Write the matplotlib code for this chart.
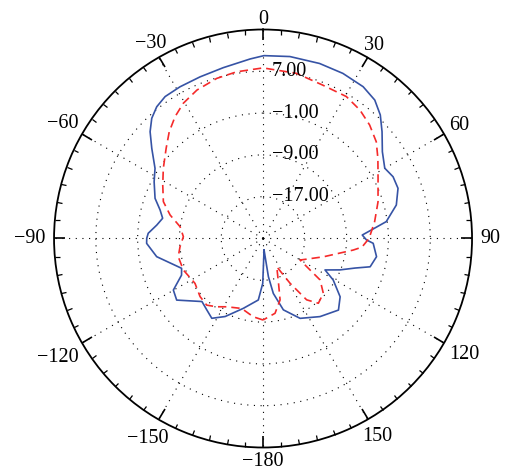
import numpy as np
import matplotlib
matplotlib.use('Agg')
import matplotlib.pyplot as plt

plt.rcParams['font.family'] = ['Liberation Serif', 'DejaVu Serif']

# blue solid pattern (angle in deg, gain in dB); starts and ends at the back spike
theta_blue = [-185, -179.6, -175.6, -164.2, -154.1, -147.3, -141.8, -135.9, -125.5, -119.9,
              -114.2, -110.1, -99.7, -92.4, -89.9, -87.4, -82.8, -78.6, -74.5, -69.6,
              -62.5, -57, -51, -46.6, -42.8, -38.9, -34.6, -28.7, -21.3, -13.1,
              -4.1, 0.3, 8.4, 17.9, 25.8, 33.4, 38.9, 43.5, 48.1, 54,
              60, 64.6, 69.6, 75.9, 82.2, 85.5, 88, 90.8, 92.5, 99.1,
              104.8, 107.8, 112.2, 116.9, 120.6, 127.1, 133.5, 143.9, 155.1, 164.1,
              169.4, 172, 175]
r_blue = [-22.8, -16.4, -13.2, -11.1, -8.4, -6.85, -7.6, -8.2, -4.7, -5.2,
          -7.9, -8.4, -4.35, -2.7, -2.74, -3.0, -4.5, -5.4, -4.55, -2.95,
          -1.5, -0.35, 2.4, 4.75, 6.35, 7.4, 8.0, 8.1, 8.2, 8.57,
          9.45, 10.0, 10.2, 10.2, 10.1, 9.8, 9.05, 7.6, 5.6, 3.23,
          1.9, 2.55, 2.56, 1.3, -1.2, -4.2, -6.0, -5.2, -3.9, -3.0,
          -3.8, -6.5, -9.1, -11.7, -9.4, -6.5, -5.1, -6.5, -8.15, -10.8,
          -14.3, -17.6, -22.8]

# red dashed pattern
theta_red = [-180, -172.9, -163, -152, -145.8, -139.8, -132.7, -123.4, -111.6, -102.1,
             -95.6, -88.7, -81.9, -75.8, -69.7, -61.9, -54.9, -47, -41.3, -35.8,
             -30.5, -24, -16.1, -9, 0, 11.4, 21.3, 30.4, 37, 43.2,
             49.5, 55.1, 62.4, 72.3, 81.4, 89.9, 95, 97.3, 106.8, 120.2,
             126, 132.3, 139.5, 144.6, 148.9, 154.1, 160.5, 164.5, 170.9, 180]
r_red = [-9.4, -9.9, -11.0, -10.2, -9.2, -8.3, -8.6, -9.4, -8.6, -8.4,
         -9.04, -9.75, -8.96, -6.65, -4.66, -3.24, -1.67, 0.35, 2.2, 3.77,
         5.05, 6.1, 6.9, 7.3, 7.65, 7.25, 6.5, 6.5, 5.8, 4.8,
         3.5, 1.8, -0.16, -1.9, -3.4, -4.7, -6.0, -7.6, -12.9, -16.8,
         -11.5, -9.4, -8.7, -10.6, -15.0, -19.0, -16.2, -12.8, -10.5, -9.4]

theta_ticks = np.arange(0, 360, 30)
theta_labels = ['0', '30', '60', '90', '120', '150',
                '\u2212180', '\u2212150', '\u2212120', '\u221290', '\u221260', '\u221230']
r_ticks = [-17, -9, -1, 7]
r_labels = ['\u221217.00', '\u22129.00', '\u22121.00', '7.00']
r_min, r_max = -25, 15

fig = plt.figure(figsize=(5.08, 4.75), dpi=100)
ax = fig.add_axes([0.1063, 0.0579, 0.823, 0.88], projection='polar')
ax.set_theta_zero_location('N')
ax.set_theta_direction(-1)
ax.set_ylim(r_min, r_max)

ax.plot(np.radians(theta_blue), r_blue, color='#3653a5', lw=1.2)
ax.plot(np.radians(theta_red), r_red, color='#f52a2a', lw=1.2, ls=(0, (5, 3)))

ax.set_xticks(np.radians(theta_ticks))
ax.set_xticklabels([])
ax.set_xticks(np.radians(np.arange(0, 360, 5)), minor=True)
ax.tick_params(axis='x', which='both', top=True, bottom=False)
ax.tick_params(axis='x', which='major', direction='in', length=8, width=1.2)
ax.tick_params(axis='x', which='minor', direction='in', length=3.5, width=0.9)

# angle labels outside the circle, pushed out by their own size
angle_txt = []
for th, lab in zip(theta_ticks, theta_labels):
    t = ax.annotate(lab, xy=(np.radians(th), r_max), xytext=(0, 0),
                    textcoords='offset pixels', ha='center', va='center',
                    fontsize=14.5, annotation_clip=False)
    angle_txt.append((th, t))
fig.canvas.draw()
rend = fig.canvas.get_renderer()
for th, t in angle_txt:
    bb = t.get_window_extent(rend)
    s, c = np.sin(np.radians(th)), np.cos(np.radians(th))
    pad = 8.5 * abs(s) + (0 if c > 0 else 5) * abs(c)
    d = pad + np.hypot(bb.width / 2 * s, bb.height / 2 * c)
    t.xyann = (d * s, d * c)

ax.set_yticks(r_ticks)
ax.set_yticklabels([])
for v, lab in zip(r_ticks, r_labels):
    ax.annotate(lab, xy=(0, v), xytext=(9, 0), textcoords='offset pixels',
                ha='left', va='center', fontsize=14.5)

ax.grid(True, color='black', linestyle=(0, (1, 5)), linewidth=0.8)
ax.spines['polar'].set_linewidth(1.3)

fig.savefig('out.png', dpi=100)
